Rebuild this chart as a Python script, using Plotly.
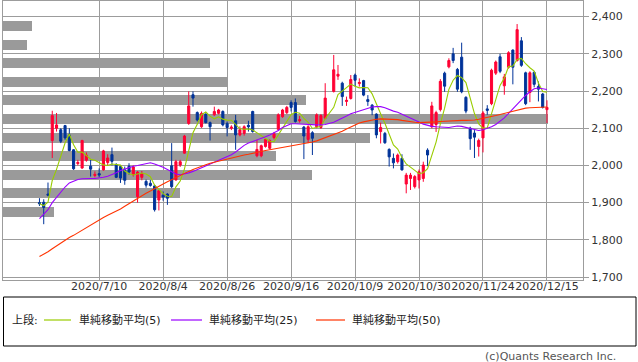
import pandas as pd
import plotly.graph_objects as go

# ---------------- data ----------------
# Trading-day slots (TSE calendar). 2020-10-01 is kept as an empty slot (no trading that day).
jp_holidays = ["2020-07-23", "2020-07-24", "2020-08-10", "2020-09-21",
               "2020-09-22", "2020-11-03", "2020-11-23"]
dates = pd.bdate_range("2020-06-22", "2020-12-15", freq="C",
                       holidays=jp_holidays).strftime("%Y-%m-%d").tolist()

tick_dates = ["2020-07-10", "2020-08-04", "2020-08-26", "2020-09-16",
              "2020-10-09", "2020-10-30", "2020-11-24", "2020-12-15"]
tick_labels = ["2020/7/10", "2020/8/4", "2020/8/26", "2020/9/16",
               "2020/10/9", "2020/10/30", "2020/11/24", "2020/12/15"]

open_ = [1900, 1901, 1923, 2067, 2100, 2096, 2107, 2082, 2042, 2005, 1993, 2014, 1998, 1973,
         1978, 1988, 2008, 2029, 2002, 1997, 1988, 1998, 1975, 1916,
         1968, 1957, 1952, 1945, 1907, 1920, 1923, 1999, 1961, 2001, 2033, 2113,
         2190, 2142, 2104, 2138, 2115, 2136, 2140, 2145, 2113, 2100, 2120, 2082,
         2086, 2108, 2145, 2026, 2026, 2051, 2046, 2075, 2097, 2131, 2142, 2169,
         2169, 2120, 2103, 2070, 2088, 2104, 2102, 2127, None,
         2199, 2240, 2221, 2172, 2180, 2243, 2220, 2228, 2177, 2162,
         2138, 2091, 2086, 2043, 2019, 2010, 2019, 1950, 1965, 1943,
         1961, 1965, 2041, 2104, 2110, 2150, 2248, 2265, 2300, 2258,
         2291, 2183, 2100, 2087, 2051, 2074, 2152, 2166, 2248, 2292,
         2214, 2264, 2310, 2282, 2335, 2249, 2196, 2250, 2212, 2192, 2150]
high = [1912, 1909, 1954, 2147, 2141, 2100, 2109, 2100, 2044, 2015, 2069, 2035, 2015, 1984,
        1992, 2042, 2030, 2048, 2006, 2000, 1997, 2006, 2000, 1985,
        1985, 1962, 1961, 1948, 1934, 1930, 1925, 2060, 2015, 2015, 2082, 2199,
        2199, 2145, 2145, 2140, 2118, 2158, 2152, 2148, 2118, 2108, 2136, 2105,
        2108, 2120, 2147, 2069, 2056, 2073, 2070, 2090, 2140, 2152, 2160, 2175,
        2180, 2133, 2106, 2108, 2092, 2140, 2138, 2221, None,
        2297, 2270, 2225, 2185, 2243, 2247, 2234, 2230, 2189, 2165,
        2140, 2115, 2090, 2046, 2032, 2032, 2030, 1980, 1980, 1974,
        1989, 2010, 2046, 2171, 2147, 2232, 2252, 2288, 2316, 2262,
        2330, 2186, 2104, 2095, 2072, 2146, 2162, 2260, 2282, 2300,
        2246, 2307, 2312, 2380, 2345, 2252, 2253, 2253, 2226, 2195, 2175]
low = [1891, 1842, 1917, 2020, 2091, 2060, 2069, 2038, 1988, 2000, 1991, 2010, 1970, 1968,
       1968, 1986, 2000, 2000, 1966, 1953, 1948, 1975, 1970, 1900,
       1960, 1940, 1943, 1876, 1879, 1905, 1894, 1939, 1959, 1996, 2031, 2109,
       2158, 2118, 2101, 2113, 2067, 2133, 2137, 2105, 2078, 2095, 2042, 2078,
       2080, 2091, 2088, 2022, 2022, 2048, 2043, 2070, 2094, 2128, 2138, 2145,
       2115, 2115, 2017, 2060, 2028, 2100, 2098, 2124, None,
       2196, 2230, 2160, 2160, 2177, 2212, 2212, 2186, 2160, 2135,
       2073, 2059, 2058, 1997, 1992, 2005, 1986, 1925, 1934, 1938,
       1938, 1956, 1998, 2100, 2090, 2145, 2198, 2261, 2275, 2198,
       2194, 2140, 2042, 2020, 2024, 2035, 2136, 2162, 2243, 2248,
       2190, 2260, 2218, 2279, 2265, 2162, 2170, 2210, 2172, 2153, 2114]
close_ = [1897, 1887, 1920, 2134, 2109, 2065, 2074, 2040, 1991, 2008, 2067, 2028, 1990, 1976,
          1974, 2039, 2020, 2011, 1968, 1966, 1960, 1982, 1996, 1982,
          1978, 1947, 1946, 1881, 1932, 1915, 1912, 1943, 2010, 2010, 2079, 2160,
          2181, 2122, 2140, 2115, 2104, 2145, 2149, 2109, 2102, 2103, 2082, 2096,
          2104, 2104, 2091, 2043, 2053, 2070, 2067, 2085, 2136, 2149, 2156, 2156,
          2118, 2123, 2079, 2104, 2073, 2136, 2134, 2181, None,
          2257, 2245, 2185, 2175, 2231, 2229, 2223, 2189, 2172, 2149,
          2082, 2102, 2061, 2023, 2007, 2028, 1988, 1974, 1974, 1970,
          1983, 2001, 2028, 2160, 2142, 2226, 2213, 2282, 2282, 2205,
          2198, 2146, 2072, 2076, 2067, 2141, 2148, 2256, 2278, 2253,
          2238, 2303, 2264, 2365, 2269, 2166, 2249, 2218, 2205, 2156, 2156]

# 25-day and 50-day moving averages
ma25 = [1857, 1870, 1881, 1900, 1915, 1930, 1942, 1953, 1958, 1962, 1964, 1965, 1965, 1965,
        1966, 1968, 1971, 1975, 1980, 1986, 1990, 1995, 1998, 2000,
        2003, 2006, 2007, 2004, 2000, 1995, 1989, 1982, 1977, 1975, 1977, 1980,
        1984, 1989, 1993, 1998, 2003, 2008, 2013, 2018, 2024, 2029, 2036, 2045,
        2054, 2060, 2064, 2067, 2072, 2077, 2082, 2087, 2094, 2102, 2108, 2112,
        2112, 2111, 2110, 2109, 2108, 2109, 2109, 2110, None,
        2116, 2121, 2127, 2133, 2139, 2143, 2146, 2150, 2154, 2157,
        2158, 2158, 2155, 2150, 2146, 2143, 2138, 2134, 2128, 2122,
        2117, 2111, 2107, 2105, 2104, 2103, 2102, 2102, 2104, 2106,
        2105, 2102, 2099, 2096, 2094, 2096, 2099, 2104, 2110, 2118,
        2128, 2140, 2152, 2165, 2176, 2188, 2198, 2206, 2208, 2206, 2204]
ma50 = [1755, 1761, 1768, 1776, 1784, 1792, 1799, 1806, 1812, 1819, 1826, 1833, 1840, 1847,
        1855, 1860, 1866, 1871, 1877, 1883, 1890, 1897, 1904, 1913,
        1919, 1925, 1931, 1938, 1944, 1950, 1956, 1962, 1968, 1974, 1979, 1984,
        1989, 1994, 1998, 2002, 2006, 2009, 2012, 2015, 2018, 2020, 2023, 2025,
        2028, 2030, 2033, 2036, 2038, 2040, 2042, 2044, 2046, 2048, 2050, 2052,
        2054, 2056, 2058, 2060, 2063, 2066, 2070, 2074, None,
        2082, 2087, 2092, 2098, 2104, 2110, 2114, 2117, 2120, 2122,
        2124, 2125, 2125, 2125, 2124, 2123, 2121, 2119, 2117, 2116,
        2115, 2115, 2115, 2116, 2117, 2118, 2119, 2119, 2120, 2120,
        2121, 2121, 2121, 2122, 2124, 2126, 2128, 2131, 2134, 2137,
        2140, 2143, 2146, 2149, 2152, 2154, 2155, 2156, 2157, 2157, 2157]

# price-band volume profile (50-yen bands, relative volume)
vp_price = [2375, 2325, 2275, 2225, 2175, 2125, 2075, 2025, 1975, 1925, 1875]
vp_volume = [29, 24, 207, 225, 303, 545, 367, 273, 309, 177, 51]

for arr in (open_, high, low, close_, ma25, ma50):
    assert len(arr) == len(dates), (len(arr), len(dates))

closes = pd.Series(close_, index=dates, dtype=float)
ma5 = closes.dropna().rolling(5, min_periods=1).mean().reindex(dates)

# ---------------- figure ----------------
UP, DOWN = "#FF0033", "#003399"
C5, C25, C50 = "#99CC00", "#9900FF", "#FF3300"
GRID = "#9c9c9c"
FONT = "DejaVu Sans, Noto Sans CJK JP, sans-serif"

fig = go.Figure()

fig.add_trace(go.Bar(
    y=vp_price, x=vp_volume, orientation="h", width=27,
    marker=dict(color="#9a9a9a", line=dict(width=0)),
    xaxis="x", yaxis="y", hoverinfo="skip", showlegend=False))

fig.add_trace(go.Candlestick(
    x=dates, open=open_, high=high, low=low, close=close_,
    increasing=dict(line=dict(color=UP, width=1), fillcolor=UP),
    decreasing=dict(line=dict(color=DOWN, width=1), fillcolor=DOWN),
    whiskerwidth=0, xaxis="x2", yaxis="y", showlegend=False))

for vals, col in ((ma5, C5), (ma25, C25), (ma50, C50)):
    fig.add_trace(go.Scatter(
        x=dates, y=list(vals), mode="lines", connectgaps=True,
        line=dict(color=col, width=1.1), xaxis="x2", yaxis="y",
        hoverinfo="skip", showlegend=False))

W, H = 638, 362
L, R, T, B = 3, 55, 1, 82
pw, ph = W - L - R, H - T - B


def px(xp):
    return (xp - L) / pw


def py(yp):
    return (H - B - yp) / ph


fig.update_layout(
    width=W, height=H,
    margin=dict(l=L, r=R, t=T, b=B, pad=0),
    paper_bgcolor="white", plot_bgcolor="white",
    font=dict(family=FONT, size=11, color="#333333"),
    showlegend=False, bargap=0,
    xaxis=dict(range=[0, pw], visible=False, fixedrange=True),
    xaxis2=dict(type="category", overlaying="x", anchor="y", side="bottom",
                categoryorder="array", categoryarray=dates,
                range=[-8.55, 127.45],
                tickmode="array", tickvals=tick_dates, ticktext=tick_labels,
                tickangle=0, ticks="", ticklabelstandoff=-4,
                showgrid=True, gridcolor=GRID, gridwidth=1,
                showline=True, mirror=True, linecolor=GRID, linewidth=1,
                rangeslider=dict(visible=False),
                tickfont=dict(family=FONT, size=11, color="#333333")),
    yaxis=dict(side="right", range=[1692, 2442], tick0=1700, dtick=100,
               tickformat=",", showgrid=True, gridcolor=GRID, gridwidth=1,
               ticks="outside", ticklen=5, tickcolor=GRID,
               showline=True, mirror=True, linecolor=GRID, linewidth=1,
               zeroline=False,
               tickfont=dict(family=FONT, size=11, color="#333333")),
)

# legend box (drawn as shapes + annotations)
shapes = [dict(type="rect", xref="paper", yref="paper",
               x0=px(3.5), x1=px(636), y0=py(297), y1=py(346),
               line=dict(color="#000000", width=1), fillcolor="rgba(0,0,0,0)")]
for x0, x1, col in ((44, 71, C5), (171, 202, C25), (316, 345, C50)):
    shapes.append(dict(type="line", xref="paper", yref="paper",
                       x0=px(x0), x1=px(x1), y0=py(320), y1=py(320),
                       line=dict(color=col, width=1.2)))
fig.update_layout(shapes=shapes)

ann = []
for xp, txt in ((10, "上段:"), (77, "単純移動平均(5)"), (207, "単純移動平均(25)"),
                (350, "単純移動平均(50)")):
    ann.append(dict(xref="paper", yref="paper", x=px(xp), y=py(320),
                    xanchor="left", yanchor="middle", showarrow=False, text=txt,
                    font=dict(family=FONT, size=11, color="#222222")))
ann.append(dict(xref="paper", yref="paper", x=px(618), y=py(356),
                xanchor="right", yanchor="middle", showarrow=False,
                text="(c)Quants Research Inc.",
                font=dict(family=FONT, size=11, color="#555555")))
fig.update_layout(annotations=ann)

fig.write_html("out.html",
               config={"displayModeBar": False},
               post_script="document.body.style.margin='0';"
                           "document.body.style.overflow='hidden';")
